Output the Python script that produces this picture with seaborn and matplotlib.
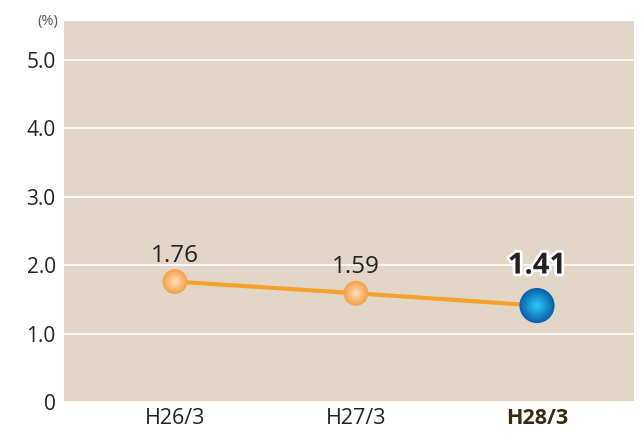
import pandas as pd
import matplotlib.pyplot as plt
import matplotlib.patheffects as pe
import matplotlib.colors as mcolors
import numpy as np
import seaborn as sns

# data
periods = ['H26/3', 'H27/3', 'H28/3']
rates = [1.76, 1.59, 1.41]
y_ticks = [0, 1.0, 2.0, 3.0, 4.0, 5.0]
y_tick_labels = ['0', '1.0', '2.0', '3.0', '4.0', '5.0']

df = pd.DataFrame({'period': periods, 'rate': rates, 'x': range(len(periods))})

sns.set_style('white')
plt.rcParams['font.family'] = ['Open Sans', 'DejaVu Sans']

fig = plt.figure(figsize=(6.43, 4.33), dpi=100)
ax = fig.add_axes([0.0995, 0.0716, 0.8865, 0.88])
ax.set_facecolor('#e2d7c7')

sns.lineplot(data=df, x='x', y='rate', color='#f6a12e', linewidth=3, ax=ax, zorder=2)


def gradient_dots(sub, size, outer, inner, z, steps=10):
    # stacked dots fading from outer colour to inner colour
    c0 = np.array(mcolors.to_rgb(outer))
    c1 = np.array(mcolors.to_rgb(inner))
    for k in range(steps):
        t = k / (steps - 1)
        col = c0 * (1 - t) + c1 * t
        s = size * (1 - t * 0.85) ** 2
        sns.scatterplot(data=sub, x='x', y='rate', s=s, color=[tuple(col)],
                        edgecolor='none', ax=ax, zorder=z + k * 0.01, legend=False)


gradient_dots(df.iloc[:-1], 320, '#f5a24a', '#fdd8b0', 3)
gradient_dots(df.iloc[[-1]], 640, '#0a63ad', '#28c0f0', 3)

# value labels
for i, r in enumerate(rates):
    if i == len(rates) - 1:
        ax.annotate(f'{r:.2f}', (i, r), xytext=(0, 18), textcoords='offset points',
                    ha='center', va='bottom', fontsize=21, fontweight='bold', color='#222222',
                    path_effects=[pe.withStroke(linewidth=4, foreground='white')], zorder=6)
    else:
        ax.annotate(f'{r:.2f}', (i, r), xytext=(0, 10), textcoords='offset points',
                    ha='center', va='bottom', fontsize=17.5, color='#222222', zorder=6)

ax.set_xlim(-0.613, 2.536)
ax.set_ylim(0, 5.57)
ax.set_xticks(range(len(periods)))
ax.set_xticklabels(periods, fontsize=15.5, color='#222222')
ax.get_xticklabels()[-1].set_fontweight('bold')
ax.get_xticklabels()[-1].set_color('#3a2a10')
ax.set_yticks(y_ticks)
ax.set_yticklabels(y_tick_labels, fontsize=15, color='#222222')
ax.tick_params(axis='y', length=0, pad=6)
ax.tick_params(axis='x', length=0, pad=4)
ax.yaxis.grid(True, color='white', linewidth=1.2)
ax.set_axisbelow(True)
ax.set_xlabel('')
ax.set_ylabel('')
for s in ax.spines.values():
    s.set_visible(False)

fig.text(0.074, 0.95, '(%)', fontsize=10.5, color='#555555', ha='center', va='center')

fig.savefig('out.png', dpi=100)
